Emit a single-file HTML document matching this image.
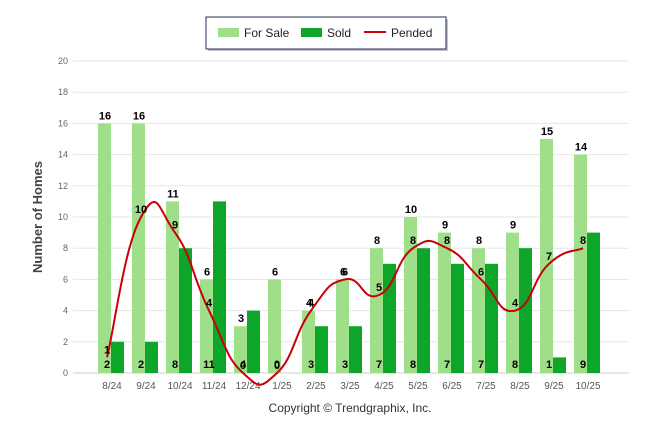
<!DOCTYPE html>
<html><head><meta charset="utf-8"><style>
body{margin:0;background:#fff;width:646px;height:434px;overflow:hidden;font-family:"Liberation Sans",sans-serif}
</style></head><body>
<svg width="646" height="434" id="c" style="font-family:'Liberation Sans',sans-serif">
<g>
<rect x="208" y="19" width="240" height="32" fill="#888" opacity="0.5"/>
<rect x="206" y="17" width="240" height="32" fill="#fff" stroke="#1f3055" stroke-width="1"/>
<rect x="218" y="28" width="21" height="9" fill="#a0df8a"/>
<text x="244" y="37" font-size="12" fill="#222">For Sale</text>
<rect x="301" y="28" width="21" height="9" fill="#0ea62a"/>
<text x="327" y="37" font-size="12" fill="#222">Sold</text>
<line x1="364" y1="32" x2="386" y2="32" stroke="#c8000a" stroke-width="2"/>
<text x="391" y="37" font-size="12" fill="#222">Pended</text>
</g>
<text transform="translate(42,217) rotate(-90)" text-anchor="middle" font-size="13" font-weight="bold" fill="#444">Number of Homes</text>
<text x="350" y="412" text-anchor="middle" font-size="12" fill="#333">Copyright © Trendgraphix, Inc.</text>
<g id="grid"></g><g id="bars"></g><g id="line"></g><g id="labels"></g>
</svg>
<script>
const categories=["8/24","9/24","10/24","11/24","12/24","1/25","2/25","3/25","4/25","5/25","6/25","7/25","8/25","9/25","10/25"];
const forSale=[16,16,11,6,3,6,4,6,8,10,9,8,9,15,14];
const sold=[2,2,8,11,4,0,3,3,7,8,7,7,8,1,9];
const pended=[1,10,9,4,0,0,4,6,5,8,8,6,4,7,8];
const yTicks=[0,2,4,6,8,10,12,14,16,18,20];
const NS="http://www.w3.org/2000/svg";
const X0=95,CW=34,Y0=373,YU=15.6;
const y=v=>Y0-v*YU, xc=i=>X0+CW*(i+0.5);
function mk(t,a,p){const e=document.createElementNS(NS,t);for(const k in a)e.setAttribute(k,a[k]);document.getElementById(p).appendChild(e);return e;}
yTicks.forEach(v=>{
 const l=mk('line',{x1:73,x2:629,y1:y(v),y2:y(v),stroke:v?'#e6e6e6':'#ccc'},'grid');
 
 
 const t=mk('text',{x:68,y:y(v)+3,'text-anchor':'end','font-size':9,fill:'#666'},'grid');t.textContent=v;
 
 
});
categories.forEach((c,i)=>{
 const t=mk('text',{x:xc(i),y:389,'text-anchor':'middle','font-size':10,fill:'#555'},'grid');t.textContent=c;
 
 
 const a=mk('rect',{x:xc(i)-14,y:y(forSale[i]),width:13,height:forSale[i]*YU,fill:'#a0df8a'},'bars');
 
 
 const b=mk('rect',{x:xc(i)-1,y:y(sold[i]),width:13,height:sold[i]*YU,fill:'#0ea62a'},'bars');
 
 
 const l1=mk('text',{x:xc(i)-7,y:y(forSale[i])-4,'text-anchor':'middle','font-size':11,'font-weight':'bold',fill:'#000'},'labels');l1.textContent=forSale[i];
 
 
 const l2=mk('text',{x:xc(i)-5,y:368,'text-anchor':'middle','font-size':11,'font-weight':'bold',fill:'#000'},'labels');l2.textContent=sold[i];
 
 
 const l3=mk('text',{x:xc(i)-5,y:y(pended[i])-4,'text-anchor':'middle','font-size':11,'font-weight':'bold',fill:'#000'},'labels');l3.textContent=pended[i];
 
 
});
const pts=pended.map((v,i)=>[xc(i)-5,y(v)]);
let d='M'+pts[0][0]+','+pts[0][1];
for(let i=0;i<pts.length-1;i++){
 const p0=pts[Math.max(i-1,0)],p1=pts[i],p2=pts[i+1],p3=pts[Math.min(i+2,pts.length-1)];
 const s=0.25;
 d+=` C${p1[0]+(p2[0]-p0[0])*s},${p1[1]+(p2[1]-p0[1])*s} ${p2[0]-(p3[0]-p1[0])*s},${p2[1]-(p3[1]-p1[1])*s} ${p2[0]},${p2[1]}`;
}
const pl=mk('path',{d:d,fill:'none',stroke:'#c8000a','stroke-width':2},'line');


</script>
</body></html>
